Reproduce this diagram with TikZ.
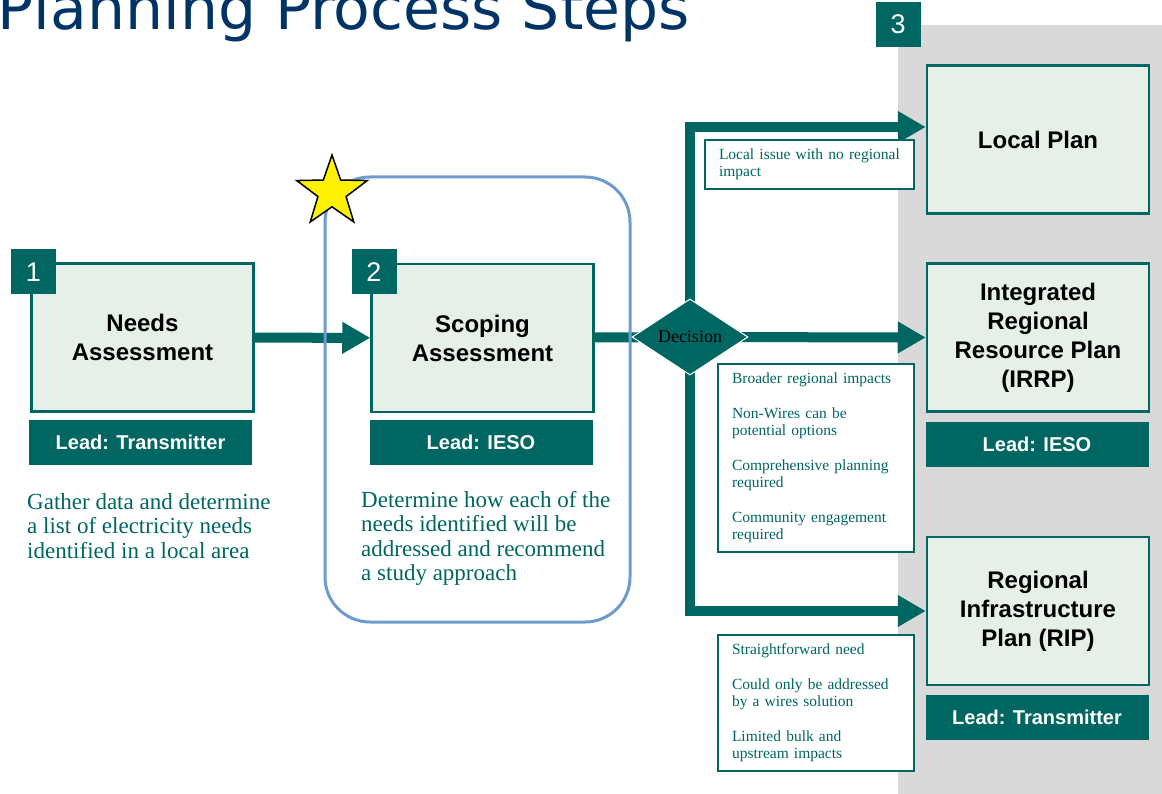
\documentclass[tikz,border=0pt]{standalone}
\usepackage{fontspec}
\setmainfont{Liberation Serif}
\setsansfont{Liberation Sans}
\newfontfamily\titlefont{DejaVu Sans}
\usetikzlibrary{shapes.geometric,arrows.meta}
\definecolor{pine}{RGB}{0,102,98}
\definecolor{mint}{RGB}{230,239,232}
\definecolor{navy}{RGB}{0,51,102}
\definecolor{sky}{RGB}{108,155,207}
\definecolor{panelgray}{RGB}{217,217,217}
\pgfdeclarelayer{back}
\pgfdeclarelayer{lines}
\pgfsetlayers{back,lines,main}
\begin{document}
\begin{tikzpicture}[x=1pt,y=-1pt]
\tikzstyle{box}=[draw=pine,line width=2.5pt,fill=mint,minimum width=222pt,minimum height=148pt,align=center,font=\sffamily\bfseries\fontsize{24}{29}\selectfont];
\tikzstyle{lead}=[fill=pine,text=white,minimum width=223pt,minimum height=45pt,inner sep=0pt,font=\sffamily\bfseries\fontsize{20}{24}\selectfont];
\tikzstyle{tag}=[fill=pine,text=white,minimum size=45pt,inner sep=0pt,font=\sffamily\fontsize{27}{30}\selectfont];
\tikzstyle{desc}=[anchor=north west,inner sep=0pt,align=left,text=pine,font=\fontsize{23}{24.5}\selectfont];
\tikzstyle{note}=[anchor=north west,draw=pine,line width=2pt,fill=white,text=pine,align=left,inner xsep=14pt,inner ysep=9pt,font=\fontsize{15.5}{17}\selectfont];
\tikzstyle{choice}=[diamond,fill=pine,draw=white,line width=1pt,minimum width=116pt,minimum height=57pt,inner sep=0pt,font=\fontsize{18}{20}\selectfont];
\tikzstyle{focus}=[draw=sky,line width=3pt,rounded corners=45pt,minimum width=305pt,minimum height=445pt];
\tikzstyle{trunk}=[draw=pine,line width=10pt];
\tikzstyle{flow}=[trunk,-{Triangle[length=28pt,width=30pt]}];
\useasboundingbox (0,0) rectangle (1162,794);

\node [anchor=base east,inner sep=0pt,text=navy,font=\titlefont\fontsize{60}{70}\selectfont] (heading) at (690,30) {Planning Process Steps};

\begin{pgfonlayer}{back}
\fill [panelgray] (898,25) rectangle (1162,794);
\end{pgfonlayer}

\node [box] (needs) at (142.5,337.5) {Needs\\Assessment};
\node [tag] (tag1) at (33.5,272) {1};
\node [lead] (lead1) at (140.5,442.5) {Lead: Transmitter};
\node [desc] (desc1) at (27,493) {Gather data and determine\\a list of electricity needs\\identified in a local area};

\node [focus] (focusbox) at (477.5,399.5) {};
\node [star,star points=5,star point ratio=2.5,minimum size=74pt,inner sep=0pt,fill=yellow,draw=black,line width=1.5pt] (star) at (332,192) {};
\node [box] (scoping) at (482.5,338) {Scoping\\Assessment};
\node [tag] (tag2) at (374,272) {2};
\node [lead] (lead2) at (481,442.5) {Lead: IESO};
\node [desc] (desc2) at (361,491) {Determine how each of the\\needs identified will be\\addressed and recommend\\a study approach};

\node [choice] (decision) at (690,337) {Decision};
\coordinate (topturn) at (690,127);

\node [tag] (tag3) at (898,24.5) {3};
\node [box] (local) at (1038,139.5) {Local Plan};
\node [box] (irrp) at (1038,337.5) {Integrated\\Regional\\Resource Plan\\(IRRP)};
\node [lead] (lead3) at (1037,444.5) {Lead: IESO};
\node [box] (rip) at (1038,611) {Regional\\Infrastructure\\Plan (RIP)};
\node [lead] (lead4) at (1037,717.5) {Lead: Transmitter};

\node [note,text width=181pt] (note1) at (704,139) {Local issue with no regional\\impact};
\node [note,text width=168pt] (note2) at (717,363) {Broader regional impacts\\[18pt]Non-Wires can be\\potential options\\[18pt]Comprehensive planning\\required\\[18pt]Community engagement\\required};
\node [note,text width=168pt] (note3) at (717,634) {Straightforward need\\[18pt]Could only be addressed\\by a wires solution\\[18pt]Limited bulk and\\upstream impacts};

\begin{pgfonlayer}{lines}
\draw [flow] (needs) -- (scoping);
\draw [trunk] (scoping) -- (decision.center);
\draw [flow] (decision.center) -- (topturn) -- (local.west |- topturn);
\draw [flow] (decision.center) -- (irrp.west);
\draw [flow] (decision.center) |- (rip.west);
\end{pgfonlayer}
\end{tikzpicture}
\end{document}
